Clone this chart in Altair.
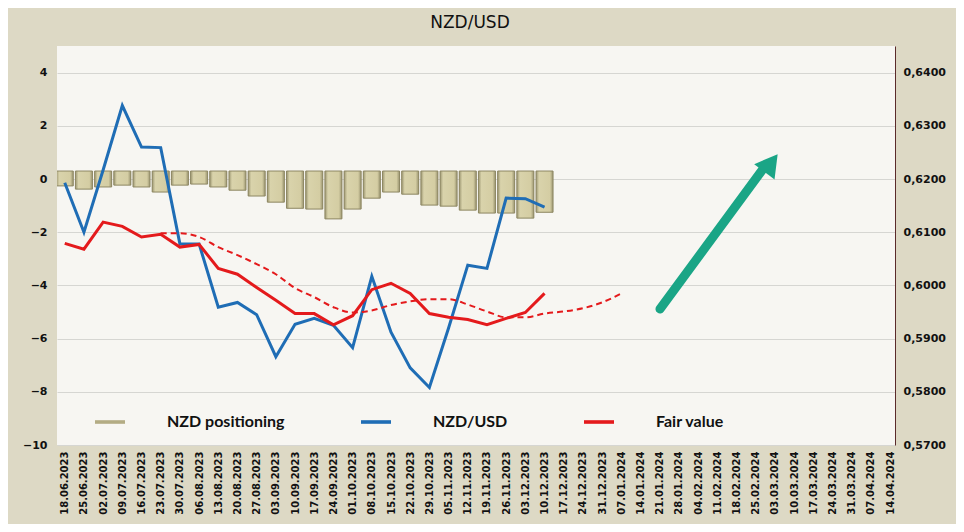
import altair as alt
import pandas as pd

# ---- data ----
weeks = ["2023-06-18", "2023-06-25", "2023-07-02", "2023-07-09", "2023-07-16", "2023-07-23", "2023-07-30",
         "2023-08-06", "2023-08-13", "2023-08-20", "2023-08-27", "2023-09-03", "2023-09-10", "2023-09-17",
         "2023-09-24", "2023-10-01", "2023-10-08", "2023-10-15", "2023-10-22", "2023-10-29", "2023-11-05",
         "2023-11-12", "2023-11-19", "2023-11-26", "2023-12-03", "2023-12-10", "2023-12-17", "2023-12-24",
         "2023-12-31", "2024-01-07", "2024-01-14", "2024-01-21", "2024-01-28", "2024-02-04", "2024-02-11",
         "2024-02-18", "2024-02-25", "2024-03-03", "2024-03-10", "2024-03-17", "2024-03-24", "2024-03-31",
         "2024-04-07", "2024-04-14"]

positioning = [-0.26, -0.38, -0.30, -0.23, -0.30, -0.49, -0.23, -0.19, -0.30, -0.42, -0.64, -0.87, -1.10,
               -1.13, -1.50, -1.13, -0.72, -0.49, -0.57, -0.98, -1.02, -1.17, -1.28, -1.28, -1.47, -1.25]

nzdusd = [0.6193, 0.6100, 0.6217, 0.6338, 0.6260, 0.6259, 0.6078, 0.6078, 0.5959, 0.5968, 0.5945, 0.5866,
          0.5927, 0.5938, 0.5925, 0.5883, 0.6017, 0.5912, 0.5845, 0.5808, 0.5920, 0.6038, 0.6032, 0.6164,
          0.6163, 0.6147]

fair_value = [0.6079, 0.6068, 0.6119, 0.6111, 0.6091, 0.6096, 0.6072, 0.6077, 0.6032, 0.6021, 0.5996, 0.5972,
              0.5947, 0.5947, 0.5926, 0.5943, 0.5992, 0.6004, 0.5985, 0.5947, 0.5940, 0.5936, 0.5926, 0.5938,
              0.5949, 0.5985]

trend_start = 5  # trend line begins at 23.07.2023
fair_trend = [0.6098, 0.6098, 0.6091, 0.6072, 0.6057, 0.6040, 0.6021, 0.5995, 0.5978, 0.5959, 0.5949, 0.5953,
              0.5963, 0.5970, 0.5974, 0.5974, 0.5964, 0.5951, 0.5940, 0.5940, 0.5947, 0.5951, 0.5957, 0.5968,
              0.5985]

left_ticks = [-10, -8, -6, -4, -2, 0, 2, 4]
right_ticks = [0.57, 0.58, 0.59, 0.60, 0.61, 0.62, 0.63, 0.64]

series_names = ["NZD positioning", "NZD/USD", "Fair value"]
series_colors = ["#b3ac84", "#1f6db5", "#e41a1c"]

# ---- tables ----
bars_df = pd.DataFrame({"date": weeks[:len(positioning)], "pos": positioning})
blue_df = pd.DataFrame({"date": weeks[:len(nzdusd)], "price": nzdusd})
red_df = pd.DataFrame({"date": weeks[:len(fair_value)], "price": fair_value})
trend_df = pd.DataFrame({"date": weeks[trend_start:trend_start + len(fair_trend)], "price": fair_trend})

week_ms = [int(pd.Timestamp(d, tz="UTC").timestamp() * 1000) for d in weeks]
x_domain = [int(pd.Timestamp("2023-06-17", tz="UTC").timestamp() * 1000), week_ms[-1]]

FONT = "DejaVu Sans"

x_enc = alt.X(
    "date:T",
    scale=alt.Scale(type="utc", domain=x_domain),
    axis=alt.Axis(values=week_ms, format="%d.%m.%Y", labelAngle=-90, labelFont=FONT,
                  labelFontWeight="bold", labelFontSize=10, labelColor="#111111",
                  ticks=False, domain=False, grid=False, title=None, labelPadding=6,
                  labelOverlap=False),
)

color_scale = alt.Scale(domain=series_names, range=series_colors)
legend = alt.Legend(
    title=None, orient="none", legendX=38, legendY=361, direction="horizontal",
    symbolType="M-1,-0.12H1V0.12H-1Z", symbolSize=900, symbolStrokeWidth=0,
    labelFont="Lato", labelFontSize=16, labelFontWeight="bold", labelColor="#111111",
    labelOffset=42, columnPadding=76,
)

y_left = alt.Y(
    "pos:Q",
    scale=alt.Scale(domain=[-10, 5], nice=False, zero=False),
    axis=alt.Axis(values=left_ticks, orient="left", title=None, labelFont=FONT, labelFontWeight="bold",
                  labelFontSize=11, labelColor="#111111", ticks=False, domain=False, grid=True,
                  gridColor="#d6d6d2", gridWidth=1, labelPadding=10),
)

bars_color = alt.Chart(bars_df).mark_bar(size=17, clip=True).encode(
    x=x_enc,
    y=y_left,
    y2=alt.datum(0.3),
    color=alt.Color("s:N", scale=color_scale, legend=legend),
).transform_calculate(s="'NZD positioning'")

bars_face = alt.Chart(bars_df).mark_bar(
    size=17, clip=True, stroke="#8e8864", strokeWidth=1,
    fill=alt.Gradient(gradient="linear", x1=0, x2=1, y1=0, y2=0,
                      stops=[alt.GradientStop(color="#9d9772", offset=0),
                             alt.GradientStop(color="#d9d3ab", offset=0.18),
                             alt.GradientStop(color="#d4cda3", offset=0.82),
                             alt.GradientStop(color="#9a9470", offset=1)]),
).encode(x=x_enc, y=alt.Y("pos:Q"), y2=alt.datum(0.3))

bars = alt.layer(bars_color, bars_face)

y_right_scale = alt.Scale(domain=[0.57, 0.645], nice=False, zero=False)
y_right_axis = alt.Axis(values=right_ticks, orient="right", title=None, labelFont=FONT,
                        labelFontWeight="bold", labelFontSize=11, labelColor="#111111",
                        labelExpr="replace(format(datum.value, '.4f'), '.', ',')",
                        ticks=False, domain=True, domainColor="#5a2a2a", domainWidth=1,
                        grid=False, labelPadding=8)

blue = alt.Chart(blue_df).mark_line(strokeWidth=3, clip=True).encode(
    x=x_enc,
    y=alt.Y("price:Q", scale=y_right_scale, axis=y_right_axis),
    color=alt.Color("s:N", scale=color_scale, legend=legend),
).transform_calculate(s="'NZD/USD'")

red = alt.Chart(red_df).mark_line(strokeWidth=3, clip=True).encode(
    x=x_enc,
    y=alt.Y("price:Q"),
    color=alt.Color("s:N", scale=color_scale, legend=legend),
).transform_calculate(s="'Fair value'")

trend = alt.Chart(trend_df).mark_line(strokeWidth=2, strokeDash=[6, 4], color="#e41a1c",
                                      interpolate="monotone", clip=True).encode(
    x=x_enc,
    y=alt.Y("price:Q"),
)

lines = alt.layer(blue, red, trend)

# decorative arrow
arrow_shaft = alt.Chart(pd.DataFrame({"a": [0]})).mark_rule(
    color="#1aa586", strokeWidth=9, strokeCap="round"
).encode(x=alt.value(603), y=alt.value(263), x2=alt.value(706), y2=alt.value(123))

arrow_head = alt.Chart(pd.DataFrame({"a": [0]})).mark_point(
    shape="triangle-up", filled=True, color="#1aa586", opacity=1, size=650, angle=37
).encode(x=alt.value(714), y=alt.value(117))

chart = alt.layer(bars, lines, arrow_shaft, arrow_head).resolve_scale(
    y="independent"
).properties(
    width=838, height=399,
    autosize=alt.AutoSizeParams(type="none"),
    padding={"left": 49, "top": 38, "right": 61, "bottom": 79},
    background="#ddd9c5",
    title=alt.TitleParams("NZD/USD", font=FONT, fontSize=17, fontWeight="normal",
                          color="#111111", anchor="middle", offset=14, dx=-6),
).configure_view(fill="#f7f6f2", stroke=None)

chart.save("out.html", embed_options={"renderer": "svg", "actions": False})
